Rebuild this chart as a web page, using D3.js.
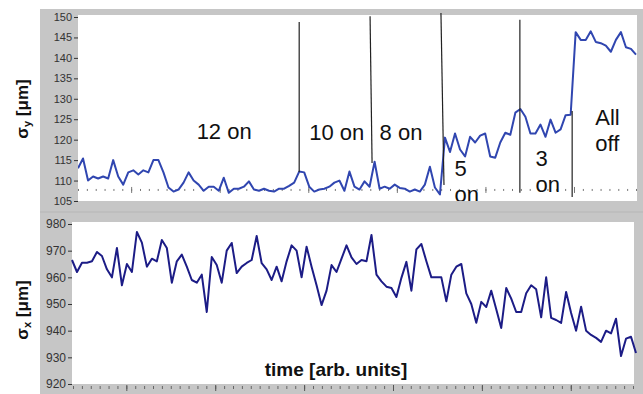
<!DOCTYPE html>
<html>
<head>
<meta charset="utf-8">
<script src="https://cdn.jsdelivr.net/npm/d3@7"></script>
<style>
  body { margin: 0; background: #fff; }
  svg { display: block; font-family: "Liberation Sans", Arial, sans-serif; }
</style>
</head>
<body>
<svg id="chart" width="643" height="394"></svg>
<script>
// sigma_y in um, one sample per time step (top panel)
const sigmaY = [113, 115.4, 110, 111, 110.5, 111, 110.5, 115, 111, 109,
  112, 112.5, 111.5, 112.5, 112, 115, 115, 112, 108.3, 107.3,
  107.8, 109.5, 112, 110, 109, 107.5, 108.5, 108.5, 107.5, 110.7,
  107, 108, 108, 108.5, 109.8, 107.8, 107.5, 108, 107.5, 107.3,
  108, 108, 108.7, 109.5, 112.2, 112, 108.5, 107.3, 107.8, 108,
  108.5, 109.5, 110, 107.5, 112.2, 108.5, 107.8, 109.8, 108.5, 114.6,
  108, 108.5, 108, 109, 108.2, 108, 107.3, 107.8, 107.3, 109,
  113.4, 108.3, 106.6, 120.5, 117, 121.5, 117.6, 115.9, 120.7, 119.3,
  121, 121.5, 115.9, 115.6, 119.3, 121.7, 121.2, 126.6, 127.5, 125.6,
  121.5, 121.5, 123.7, 120.7, 124.9, 121.7, 122.5, 126, 126.1, 146.3,
  144.4, 144.4, 146.5, 143.9, 143.6, 143, 141.5, 144.4, 146.3, 142.6,
  142.2, 140.8]

// sigma_x in um (bottom panel)
const sigmaX = [966.5, 962, 965.5, 965.5, 966, 969.5, 968, 963, 960, 971,
  957, 965, 962, 977, 973, 964, 967, 966, 974, 971,
  958, 966, 968.5, 964, 959, 958, 961, 947, 967.6, 964.6,
  958, 970, 972.9, 961.6, 964, 965.4, 966.5, 975.5, 965.3, 963,
  959, 964, 958.5, 966, 972, 970, 960, 971.5, 964, 957,
  949.6, 955, 964.6, 962, 967, 972, 967.5, 965, 966.5, 966,
  975.9, 961, 958.5, 956.5, 956, 952.6, 959.8, 965.8, 955, 970.5,
  972.5, 966, 960, 960, 960, 951, 961, 964, 965, 954,
  950, 943, 950.8, 948.9, 955, 948, 941, 956, 952, 947,
  947, 954, 957, 955.5, 945, 960, 944.8, 944, 942.9, 954.5,
  946.6, 940, 949, 940, 938.4, 937.3, 935.8, 940, 939, 944.5,
  930.5, 937, 937.7, 931.6]

const yTicksTop = [105, 110, 115, 120, 125, 130, 135, 140, 145, 150]
const yTicksBottom = [920, 930, 940, 950, 960, 970, 980]

// time axis in arb. units
const timeMax = 63
const timeMinor = d3.range(0, 64, 1)
const timeMajor = [6, 16, 26, 36, 46, 56]

// switch-over markers: sample index (start/end) and sigma_y span of the line
const markerT0 = [44, 58.1, 72.2, 87.9, 98.3]
const markerT1 = [44, 58.5, 72.8, 87.9, 98.3]
const markerTop = [148.8, 150.2, 151, 149.3, 127]
const markerBottom = [112.1, 114.3, 108.9, 107, 106]

// state labels
const stateLabels = [['12 on'], ['10 on'], ['8 on'], ['5', 'on'], ['3', 'on'], ['All', 'off']]

const svg = d3.select('#chart')

// frames
svg.append('rect').attr('x', 40).attr('y', 9).attr('width', 603).attr('height', 202)
  .attr('fill', '#c6c6c6')
svg.append('rect').attr('x', 40).attr('y', 213).attr('width', 603).attr('height', 181)
  .attr('fill', '#c6c6c6')
svg.append('line').attr('x1', 40).attr('x2', 643).attr('y1', 212).attr('y2', 212)
  .attr('stroke', '#a8a8a8').attr('stroke-width', 1.5)

// ---------- top panel ----------
const topArea = { x0: 78, x1: 637, y0: 15, y1: 201 }
svg.append('rect').attr('x', topArea.x0).attr('y', topArea.y0)
  .attr('width', topArea.x1 - topArea.x0).attr('height', topArea.y1 - topArea.y0)
  .attr('fill', '#fff')
svg.append('clipPath').attr('id', 'clipTop').append('rect')
  .attr('x', topArea.x0).attr('y', topArea.y0)
  .attr('width', topArea.x1 - topArea.x0).attr('height', topArea.y1 - topArea.y0)

const xTop = d3.scaleLinear().domain([0, sigmaY.length - 1]).range([78, 636])
const tTop = d3.scaleLinear().domain([0, timeMax]).range([78, 636])
const yTop = d3.scaleLinear().domain([105, 150]).range([201, 17])

const axTop = svg.append('g').attr('transform', 'translate(78,0)')
  .call(d3.axisLeft(yTop).tickValues(yTicksTop).tickSize(4).tickPadding(2))
axTop.select('.domain').remove()
axTop.selectAll('line').attr('stroke', '#333')
axTop.selectAll('text').attr('font-size', 11).attr('fill', '#333')
  .attr('font-family', '"Liberation Sans", Arial, sans-serif')

// dotted reference line built from the time ticks
const dotY = yTop(107.7)
const dotMinor = svg.append('g').attr('transform', 'translate(0,' + (dotY - 1) + ')')
  .call(d3.axisBottom(tTop).tickValues(timeMinor).tickSize(2).tickFormat(''))
dotMinor.select('.domain').remove()
dotMinor.selectAll('line').attr('stroke', '#777')
const dotMajor = svg.append('g').attr('transform', 'translate(0,' + (dotY - 3) + ')')
  .call(d3.axisBottom(tTop).tickValues(timeMajor).tickSize(6).tickFormat(''))
dotMajor.select('.domain').remove()
dotMajor.selectAll('line').attr('stroke', '#777')

svg.append('path')
  .datum(sigmaY)
  .attr('clip-path', 'url(#clipTop)')
  .attr('fill', 'none')
  .attr('stroke', '#3046b0')
  .attr('stroke-width', 2)
  .attr('stroke-linejoin', 'round')
  .attr('d', d3.line().x((d, i) => xTop(i)).y(d => yTop(d)))

// marker lines
markerT0.forEach((t, i) => {
  svg.append('line')
    .attr('x1', xTop(t)).attr('y1', yTop(markerTop[i]))
    .attr('x2', xTop(markerT1[i])).attr('y2', yTop(markerBottom[i]))
    .attr('stroke', '#222').attr('stroke-width', 1.2)
})

// state labels (anchor: sample index, sigma_y of first baseline)
const labelPos = [[23.6, 120.2], [46, 119.9], [60, 119.9], [74.9, 111], [91, 113.5], [102.9, 123.5]]
const labels = svg.append('g').attr('clip-path', 'url(#clipTop)')
stateLabels.forEach((lines, i) => {
  const txt = labels.append('text')
    .attr('x', xTop(labelPos[i][0]))
    .attr('y', yTop(labelPos[i][1]))
    .attr('font-size', 22)
    .attr('fill', '#111')
  lines.forEach((s, k) => {
    txt.append('tspan').attr('x', xTop(labelPos[i][0])).attr('dy', k ? 26 : 0).text(s)
  })
})

// ---------- bottom panel ----------
const botArea = { x0: 72, x1: 634, y0: 222, y1: 384 }
svg.append('rect').attr('x', botArea.x0).attr('y', botArea.y0)
  .attr('width', botArea.x1 - botArea.x0).attr('height', botArea.y1 - botArea.y0)
  .attr('fill', '#fff')

const xBot = d3.scaleLinear().domain([0, sigmaX.length - 1]).range([72, 636])
const tBot = d3.scaleLinear().domain([0, timeMax]).range([73, 633])
const yBot = d3.scaleLinear().domain([920, 980]).range([384, 224])

const axBot = svg.append('g').attr('transform', 'translate(72,0)')
  .call(d3.axisLeft(yBot).tickValues(yTicksBottom).tickSize(4).tickPadding(2))
axBot.select('.domain').remove()
axBot.selectAll('line').attr('stroke', '#333')
axBot.selectAll('text').attr('font-size', 12).attr('fill', '#333')
  .attr('font-family', '"Liberation Sans", Arial, sans-serif')

const timeMinorAx = svg.append('g').attr('transform', 'translate(0,386)')
  .call(d3.axisBottom(tBot).tickValues(timeMinor).tickSize(3).tickFormat(''))
timeMinorAx.select('.domain').remove()
timeMinorAx.selectAll('line').attr('stroke', '#666')
const timeMajorAx = svg.append('g').attr('transform', 'translate(0,385)')
  .call(d3.axisBottom(tBot).tickValues(timeMajor).tickSize(6).tickFormat(''))
timeMajorAx.select('.domain').remove()
timeMajorAx.selectAll('line').attr('stroke', '#555')

svg.append('path')
  .datum(sigmaX)
  .attr('fill', 'none')
  .attr('stroke', '#1c1c86')
  .attr('stroke-width', 2)
  .attr('stroke-linejoin', 'round')
  .attr('d', d3.line().x((d, i) => xBot(i)).y(d => yBot(d)))

// axis titles
const yTitle = (cx, cy, sub) => {
  const t = svg.append('text')
    .attr('transform', 'translate(' + cx + ',' + cy + ') rotate(-90)')
    .attr('text-anchor', 'middle')
    .attr('font-size', 17).attr('font-weight', 'bold').attr('fill', '#111')
  t.append('tspan').text('σ')
  t.append('tspan').attr('font-size', 11).attr('dy', 3).text(sub)
  t.append('tspan').attr('dy', -3).text(' [μm]')
}
yTitle(28, 109, 'y')
yTitle(28, 310, 'x')

svg.append('text')
  .attr('x', 336).attr('y', 376)
  .attr('text-anchor', 'middle')
  .attr('font-size', 19).attr('font-weight', 'bold').attr('fill', '#111')
  .text('time [arb. units]')
</script>
</body>
</html>
